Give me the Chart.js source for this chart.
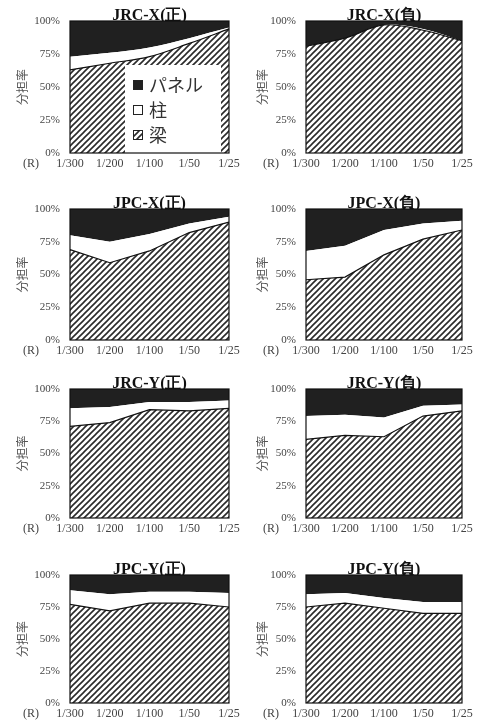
<!DOCTYPE html>
<html>
<head>
<meta charset="utf-8">
<script src="https://cdn.jsdelivr.net/npm/chart.js@4.4.1/dist/chart.umd.min.js"></script>
<style>
  body { margin: 0; background: #fff; width: 481px; height: 728px; position: relative; overflow: hidden; }
  .panel { position: absolute; }
  canvas { display: block; }
</style>
</head>
<body>
<div id="panels"></div>
<script>
// drift angle steps (x axis)
const driftLabels = ['1/300', '1/200', '1/100', '1/50', '1/25'];
const percentTicks = [0, 25, 50, 75, 100];
const seriesNames = ['梁', '柱', 'パネル'];

// share ratio (%) per specimen / direction
const jrcXPosBeam   = [63, 68, 73, 83, 94];
const jrcXPosColumn = [10, 8, 7, 4, 1];
const jrcXPosPanel  = [27, 24, 20, 13, 5];

const jrcXNegBeam   = [81, 87, 97, 93, 85];
const jrcXNegColumn = [0, 0, 0, 1, 0];
const jrcXNegPanel  = [19, 13, 3, 6, 15];

const jpcXPosBeam   = [69, 59, 68, 82, 90];
const jpcXPosColumn = [11, 16, 13, 7, 4];
const jpcXPosPanel  = [20, 25, 19, 11, 6];

const jpcXNegBeam   = [46, 48, 65, 77, 84];
const jpcXNegColumn = [22, 24, 19, 12, 7];
const jpcXNegPanel  = [32, 28, 16, 11, 9];

const jrcYPosBeam   = [71, 74, 84, 83, 85];
const jrcYPosColumn = [14, 12, 6, 7, 6];
const jrcYPosPanel  = [15, 14, 10, 10, 9];

const jrcYNegBeam   = [61, 64, 63, 79, 83];
const jrcYNegColumn = [18, 16, 15, 8, 5];
const jrcYNegPanel  = [21, 20, 22, 13, 12];

const jpcYPosBeam   = [77, 72, 78, 78, 75];
const jpcYPosColumn = [11, 13, 9, 9, 11];
const jpcYPosPanel  = [12, 15, 13, 13, 14];

const jpcYNegBeam   = [75, 78, 74, 70, 70];
const jpcYNegColumn = [10, 8, 8, 9, 9];
const jpcYNegPanel  = [15, 14, 18, 21, 21];

const specimens = [
  { title: 'JRC-X(正)', beam: jrcXPosBeam, column: jrcXPosColumn, panel: jrcXPosPanel, smooth: true, legend: true },
  { title: 'JRC-X(負)', beam: jrcXNegBeam, column: jrcXNegColumn, panel: jrcXNegPanel, smooth: true },
  { title: 'JPC-X(正)', beam: jpcXPosBeam, column: jpcXPosColumn, panel: jpcXPosPanel },
  { title: 'JPC-X(負)', beam: jpcXNegBeam, column: jpcXNegColumn, panel: jpcXNegPanel },
  { title: 'JRC-Y(正)', beam: jrcYPosBeam, column: jrcYPosColumn, panel: jrcYPosPanel },
  { title: 'JRC-Y(負)', beam: jrcYNegBeam, column: jrcYNegColumn, panel: jrcYNegPanel },
  { title: 'JPC-Y(正)', beam: jpcYPosBeam, column: jpcYPosColumn, panel: jpcYPosPanel },
  { title: 'JPC-Y(負)', beam: jpcYNegBeam, column: jpcYNegColumn, panel: jpcYNegPanel }
];

// page layout: plot top / bottom per row
const rowTops = [21, 209, 389, 575];
const rowBottoms = [153, 340, 518, 703];

const serif = '"Liberation Serif", "Times New Roman", serif';
const cjk = '"Noto Sans CJK JP", sans-serif';
const inkDark = '#202020';
const textGray = '#444';

function makeHatch() {
  const s = 6;
  const c = document.createElement('canvas');
  c.width = s; c.height = s;
  const g = c.getContext('2d');
  g.fillStyle = '#fff';
  g.fillRect(0, 0, s, s);
  g.strokeStyle = '#2a2a2a';
  g.lineWidth = 1.6;
  g.beginPath();
  g.moveTo(-1, s + 1); g.lineTo(s + 1, -1);
  g.moveTo(-1, 1); g.lineTo(1, -1);
  g.moveTo(s - 1, s + 1); g.lineTo(s + 1, s - 1);
  g.stroke();
  return g.createPattern(c, 'repeat');
}
const hatch = makeHatch();

const framePlugin = {
  id: 'frame',
  afterDraw(chart) {
    const a = chart.chartArea;
    const ctx = chart.ctx;
    ctx.save();
    ctx.strokeStyle = '#111';
    ctx.lineWidth = 1.2;
    ctx.strokeRect(a.left, a.top, a.right - a.left, a.bottom - a.top);
    // "(R)" marker next to the drift labels
    ctx.fillStyle = textGray;
    ctx.font = '12px ' + serif;
    ctx.textAlign = 'center';
    ctx.textBaseline = 'middle';
    ctx.fillText('(R)', 31, a.bottom + 11);
    ctx.restore();
  }
};

const legendPlugin = {
  id: 'boxLegend',
  afterDatasetsDraw(chart, args, opts) {
    if (!opts.show) return;
    const a = chart.chartArea;
    const ctx = chart.ctx;
    const left = a.right - 104, right = a.right - 8, top = a.top + 44;
    ctx.save();
    ctx.fillStyle = '#fff';
    ctx.fillRect(left, top, right - left, a.bottom - top);
    const items = chart.data.datasets.slice().reverse();
    ctx.font = '18px ' + cjk;
    ctx.textBaseline = 'middle';
    ctx.textAlign = 'left';
    items.forEach((ds, i) => {
      const cy = top + 20 + i * 25;
      ctx.fillStyle = ds.backgroundColor;
      ctx.fillRect(left + 8, cy - 5, 10, 10);
      ctx.strokeStyle = '#222';
      ctx.lineWidth = 1;
      ctx.strokeRect(left + 8.5, cy - 4.5, 9, 9);
      ctx.fillStyle = '#333';
      ctx.fillText(ds.label, left + 24, cy);
    });
    ctx.restore();
  }
};

const host = document.getElementById('panels');

specimens.forEach((sp, i) => {
  const row = Math.floor(i / 2);
  const col = i % 2;
  const plotH = rowBottoms[row] - rowTops[row];
  const w = col === 0 ? 240 : 241;
  const h = 21 + plotH + 24;
  const div = document.createElement('div');
  div.className = 'panel';
  div.style.left = (col === 0 ? 0 : 240) + 'px';
  div.style.top = (rowTops[row] - 21) + 'px';
  const cv = document.createElement('canvas');
  cv.width = w; cv.height = h;
  div.appendChild(cv);
  host.appendChild(div);

  const yWidth = col === 0 ? 70 : 66;
  const rightPad = col === 0 ? 11 : 19;
  const tension = sp.smooth ? 0.35 : 0;

  new Chart(cv.getContext('2d'), {
    type: 'line',
    data: {
      labels: driftLabels,
      datasets: [
        { label: seriesNames[0], data: sp.beam, fill: 'origin', backgroundColor: hatch,
          borderColor: '#111', borderWidth: 1.2, pointRadius: 0, tension: tension },
        { label: seriesNames[1], data: sp.column, fill: '-1', backgroundColor: '#fff',
          borderColor: '#fff', borderWidth: 0, pointRadius: 0, tension: tension },
        { label: seriesNames[2], data: sp.panel, fill: '-1', backgroundColor: inkDark,
          borderColor: inkDark, borderWidth: 0, pointRadius: 0, tension: tension }
      ]
    },
    options: {
      responsive: false,
      animation: false,
      layout: { padding: { top: 0, right: rightPad, bottom: 0, left: 0 } },
      plugins: {
        legend: { display: false },
        tooltip: { enabled: false },
        title: {
          display: true,
          text: sp.title,
          fullSize: false,
          color: '#111',
          font: { family: serif, size: 16, weight: 'bold' },
          padding: { top: 6, bottom: -4.2 }
        },
        boxLegend: { show: !!sp.legend }
      },
      scales: {
        x: {
          offset: false,
          grid: { display: false, drawTicks: false },
          border: { display: false },
          ticks: { color: textGray, font: { family: serif, size: 12 }, padding: 4,
                   maxRotation: 0, autoSkip: false },
          afterFit(scale) { scale.height = 24; scale.paddingLeft = 0; scale.paddingRight = 0; }
        },
        y: {
          stacked: true,
          min: 0,
          max: 100,
          grid: { display: false, drawTicks: false },
          border: { display: false },
          afterBuildTicks(scale) { scale.ticks = percentTicks.map(v => ({ value: v })); },
          ticks: { color: textGray, font: { family: serif, size: 11 }, padding: 10,
                   callback: v => v + '%' },
          title: { display: true, text: '分担率', color: '#555',
                   font: { family: cjk, size: 12 }, padding: { top: 15, bottom: 0 } },
          afterFit(scale) { scale.width = yWidth; scale.paddingTop = 0; scale.paddingBottom = 0; }
        }
      }
    },
    plugins: [framePlugin, legendPlugin]
  });
});
</script>
</body>
</html>
